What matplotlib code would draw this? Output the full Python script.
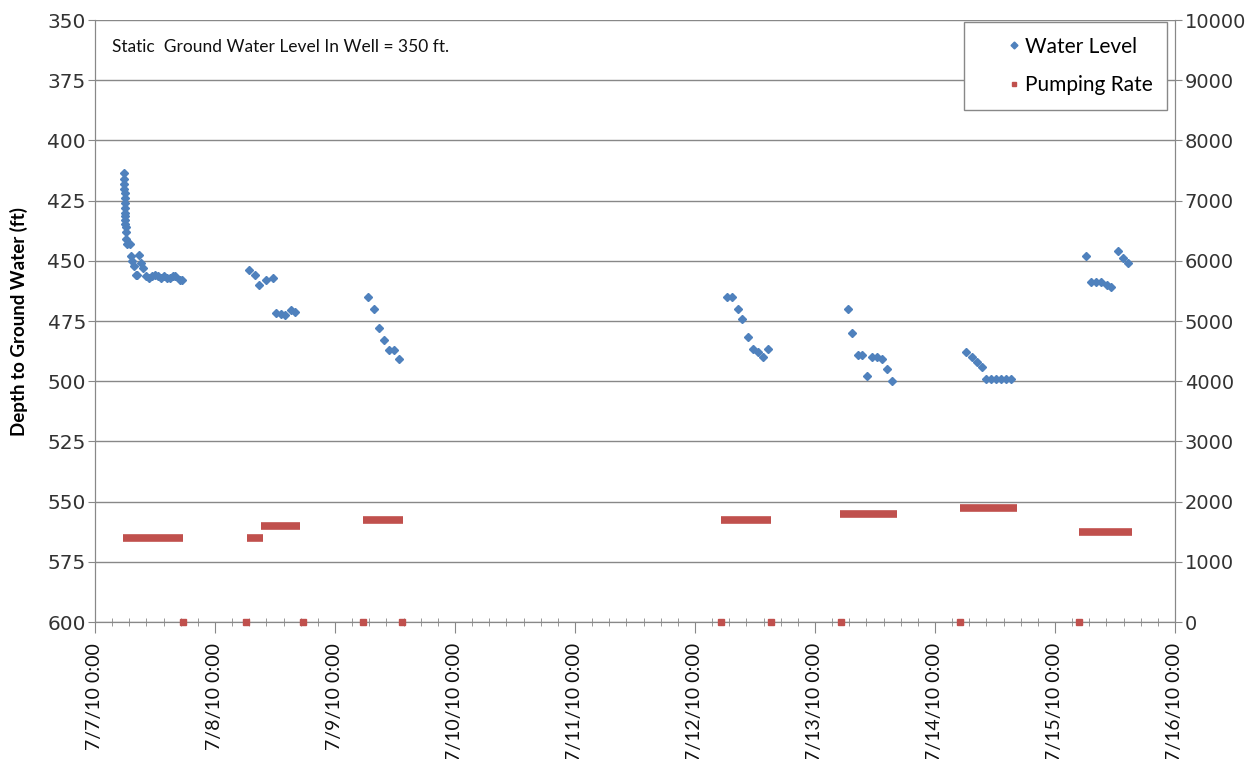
import datetime as dt
import matplotlib
matplotlib.use('Agg')
import matplotlib.pyplot as plt
import matplotlib.dates as mdates
from matplotlib.ticker import MultipleLocator
from matplotlib.lines import Line2D

# Water level readings: days after 7/7/10 0:00 and depth to water (ft)
wl_days = [0.242, 0.244, 0.245, 0.246, 0.247, 0.248, 0.249, 0.250, 0.251, 0.252,
           0.253, 0.254, 0.255, 0.258, 0.262, 0.266, 0.290, 0.298, 0.306, 0.325,
           0.342, 0.350, 0.367, 0.383, 0.400, 0.425, 0.450, 0.475, 0.500, 0.525,
           0.550, 0.575, 0.600, 0.625, 0.650, 0.667, 0.708, 0.725,
           1.283, 1.333, 1.367, 1.425, 1.480, 1.506, 1.550, 1.583, 1.633, 1.667,
           2.278, 2.325, 2.367, 2.408, 2.453, 2.492, 2.536,
           5.264, 5.311, 5.356, 5.394, 5.439, 5.481, 5.523, 5.564, 5.606,
           6.273, 6.308, 6.356, 6.394, 6.436, 6.473, 6.514, 6.558, 6.600, 6.644,
           7.261, 7.306, 7.347, 7.392, 7.422, 7.464, 7.506, 7.550, 7.592, 7.636,
           8.258, 8.298, 8.339, 8.381, 8.431, 8.467, 8.528, 8.569, 8.611]
wl_depth = [413.5, 416, 418, 420, 422, 424, 426, 428, 430, 431.5,
            433, 434.5, 436, 438, 441, 443, 443, 448, 450, 452,
            456, 456, 447.5, 451, 453, 456.5, 457, 456.5, 456, 456.5,
            457, 456.5, 457, 457, 456.5, 456.5, 458, 458,
            453.7, 455.9, 460, 458, 457, 471.8, 472.2, 472.5, 470.4, 471.1,
            465.2, 470.1, 478, 482.9, 487, 487, 490.9,
            465.2, 465.2, 470.1, 474.2, 481.8, 486.8, 487.7, 489.8, 486.8,
            470.1, 480.1, 489.2, 489.2, 497.8, 490, 490, 490.9, 495.1, 500,
            487.7, 490, 491.9, 494.2, 499.2, 499.2, 499.2, 499.2, 499.2, 499.2,
            447.9, 458.7, 458.7, 458.7, 460, 461, 445.9, 449, 451]

# Pumping periods: start/end (days after 7/7/10 0:00) and rate
pump_start = [0.23, 1.27, 1.38, 2.23, 5.22, 6.21, 7.21, 8.20]
pump_end = [0.73, 1.40, 1.71, 2.57, 5.63, 6.68, 7.68, 8.64]
pump_rate = [1400, 1400, 1600, 1700, 1700, 1800, 1900, 1500]
# pump on/off readings at zero rate
zero_days = [0.73, 1.26, 1.73, 2.23, 2.56, 5.22, 5.63, 6.22, 7.21, 8.20]

t0 = dt.datetime(2010, 7, 7)
def to_dt(days):
    return [t0 + dt.timedelta(days=d) for d in days]

blue = '#4F81BD'
red = '#C0504D'
grey = '#888888'
txt_font = 'Lato'

fig = plt.figure(figsize=(12.53, 7.59), dpi=100)
ax = fig.add_axes([0.0758, 0.1805, 0.8619, 0.7931])
ax2 = ax.twinx()

ax.plot(to_dt(wl_days), wl_depth, linestyle='none', marker='D', markersize=4.4,
        color=blue, zorder=3)
ax.set_ylim(600, 350)
ax.yaxis.set_major_locator(MultipleLocator(25))
ax.set_xlim(t0, t0 + dt.timedelta(days=9))
ax.xaxis.set_major_locator(mdates.DayLocator())
ax.xaxis.set_minor_locator(MultipleLocator(1 / 7))
ax.xaxis.set_major_formatter(mdates.DateFormatter('%-m/%-d/%y %-H:%M'))
ax.grid(axis='y', color=grey, linewidth=1)
ax.set_axisbelow(True)
ax.set_ylabel('Depth to Ground Water (ft)', fontsize=13.5, fontweight='bold',
              family=txt_font)
ax.yaxis.set_label_coords(-0.062, 0.5)

for s, e, r in zip(pump_start, pump_end, pump_rate):
    ax2.plot(to_dt([s, e]), [r, r], color=red, linewidth=5.5,
             solid_capstyle='butt')
ax2.plot(to_dt(zero_days), [0] * len(zero_days), linestyle='none', marker='s',
         markersize=4.5, color=red, clip_on=False, zorder=5)
ax2.set_ylim(0, 10000)
ax2.yaxis.set_major_locator(MultipleLocator(1000))

for a in (ax, ax2):
    for sp in a.spines.values():
        sp.set_color(grey)
    a.tick_params(axis='both', which='major', colors=grey, labelcolor='#333333',
                  labelsize=14, length=5, pad=2)
ax.spines['top'].set_visible(False)
ax2.spines['top'].set_visible(False)
ax.tick_params(axis='y', labelsize=14.5, pad=1.5)
ax.tick_params(axis='x', which='major', labelrotation=90, labelsize=14,
               length=8, pad=7, direction='out', labelcolor='#111111')
ax.tick_params(axis='x', which='minor', length=6, direction='inout', colors=grey)
for lbl in ax.get_xticklabels():
    lbl.set_family(txt_font)

ax.text(0.016, 0.955, 'Static  Ground Water Level In Well = 350 ft.',
        transform=ax.transAxes, fontsize=12.5, family=txt_font,
        va='center', ha='left', color='#111111')

handles = [Line2D([], [], linestyle='none', marker='D', markersize=3.5, color=blue),
           Line2D([], [], linestyle='none', marker='s', markersize=3.5, color=red)]
leg = ax2.legend(handles, ['Water Level', 'Pumping Rate'], loc='upper right',
                 bbox_to_anchor=(0.9926, 0.9967), fancybox=False, framealpha=1,
                 edgecolor=grey, prop={'family': txt_font, 'size': 15},
                 handlelength=3.4, handletextpad=-1.2, borderpad=0.7,
                 labelspacing=0.9, borderaxespad=0)
leg.get_frame().set_linewidth(1)

fig.savefig('out.png', dpi=100)
